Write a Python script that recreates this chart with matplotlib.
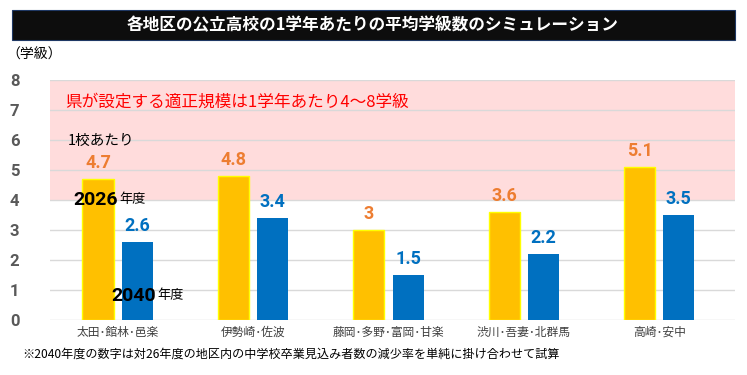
import numpy as np
import matplotlib.pyplot as plt
from matplotlib.patches import Rectangle

plt.rcParams['font.family'] = ['Noto Sans CJK JP', 'DejaVu Sans']
NUMFONT = ['Roboto', 'DejaVu Sans']

# ----------------------------------------------------------
# Data
# ----------------------------------------------------------
regions = ["太田･館林･邑楽", "伊勢崎･佐波", "藤岡･多野･富岡･甘楽", "渋川･吾妻･北群馬", "高崎･安中"]
y2026 = [4.7, 4.8, 3.0, 3.6, 5.1]
y2040 = [2.6, 3.4, 1.5, 2.2, 3.5]
y_ticks = [0, 1, 2, 3, 4, 5, 6, 7, 8]

title = "各地区の公立高校の1学年あたりの平均学級数のシミュレーション"
band_text = "県が設定する適正規模は1学年あたり4～8学級"
note = "※2040年度の数字は対26年度の地区内の中学校卒業見込み者数の減少率を単純に掛け合わせて試算"

# ----------------------------------------------------------
# Figure
# ----------------------------------------------------------
fig = plt.figure(figsize=(7.47, 3.75), dpi=100)
W, H = 747, 375
ax = fig.add_axes([50 / W, 1 - 320 / H, 685 / W, 240 / H])

x = np.arange(len(regions))
bw = 0.23
off = 0.145

# pink band (appropriate size 4-8)
ax.axhspan(4, 8, color='#FFDCDC', zorder=0, lw=0)
for t in y_ticks:
    ax.axhline(t, color='#D9D9D9', lw=1, zorder=1)

ax.bar(x - off, y2026, bw, color='#FFC000', edgecolor='#FFFF00', lw=1, zorder=2)
ax.bar(x + off, y2040, bw, color='#0070C0', lw=0, zorder=2)

for xi, v in zip(x, y2026):
    ax.text(xi - off, v + 0.22, f"{v:g}", ha='center', va='bottom', color='#ED7D31',
            fontsize=13, fontweight='bold', family=NUMFONT, zorder=3)
for xi, v in zip(x, y2040):
    ax.text(xi + off, v + 0.22, f"{v:g}", ha='center', va='bottom', color='#0070C0',
            fontsize=13, fontweight='bold', family=NUMFONT, zorder=3)

ax.set_xlim(-0.5, 4.56)
ax.set_ylim(0, 8)
ax.set_yticks(y_ticks)
ax.set_yticklabels([str(t) for t in y_ticks], color='#595959', fontsize=12,
                   fontweight='bold', family=NUMFONT)
ax.set_xticks(x)
ax.set_xticklabels(regions, fontsize=8.5, color='#404040')
ax.tick_params(axis='both', length=0)
ax.tick_params(axis='y', pad=22)
ax.tick_params(axis='x', pad=4)
for s in ax.spines.values():
    s.set_visible(False)

# band label
ax.text(-0.39, 7.25, band_text, color='#FF0000', fontsize=12, va='center', zorder=3)

# annotations in the first group
ax.text(-0.37, 5.97, "1校あたり", fontsize=10.5, color='#000000', va='center', zorder=3)
t26 = ax.text(-0.33, 4.0, "2026", fontsize=14, fontweight='bold', family=NUMFONT,
              va='center', zorder=3)
ax.annotate("年度", xy=(1, 0.5), xycoords=t26, xytext=(1, 0), textcoords='offset points',
            fontsize=9.5, va='center', ha='left', zorder=3)
t40 = ax.text(-0.05, 0.8, "2040", fontsize=14, fontweight='bold', family=NUMFONT,
              va='center', zorder=3)
ax.annotate("年度", xy=(1, 0.5), xycoords=t40, xytext=(1, 0), textcoords='offset points',
            fontsize=9.5, va='center', ha='left', zorder=3)

# title box
fig.patches.append(Rectangle((12 / W, 1 - 40 / H), 723 / W, 30 / H, transform=fig.transFigure,
                             facecolor='#0D0D0D', edgecolor='#1F3864', lw=0.8))
fig.text(373 / W, 1 - 25 / H, title, color='white', fontsize=12, fontweight='bold',
         ha='center', va='center')

fig.text(6 / W, 1 - 55 / H, "（学級）", fontsize=10, ha='left', va='center')
fig.text(22 / W, 1 - 354 / H, note, fontsize=8.7, ha='left', va='center')

fig.savefig("out.png", dpi=100)
